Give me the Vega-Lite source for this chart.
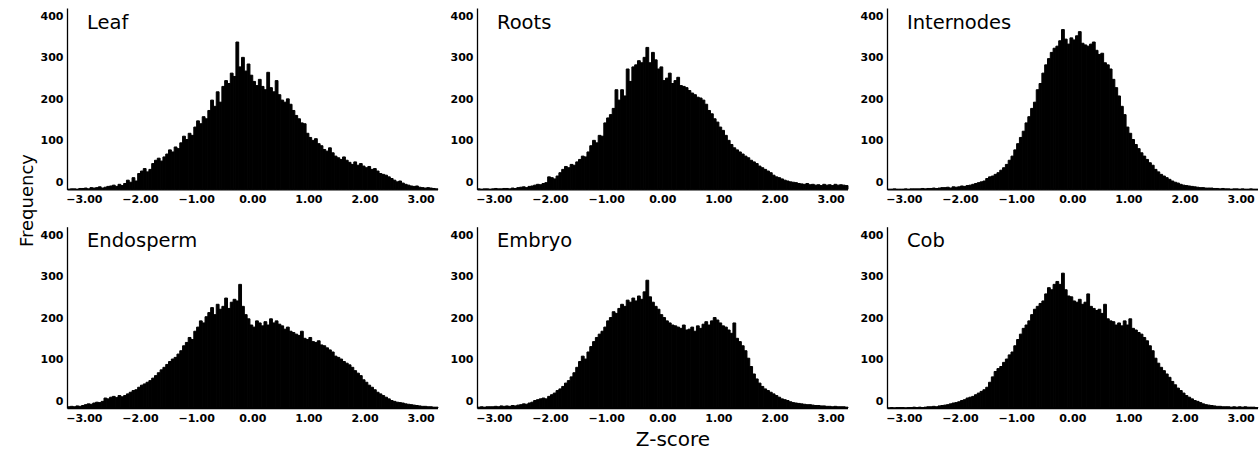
{
"$schema": "https://vega.github.io/schema/vega-lite/v6.json",
"background": "white",
"padding": {"left": 18, "top": 8, "right": 0, "bottom": 0},
"config": {
 "view": {"stroke": null},
 "bar": {"binSpacing": 0, "color": "black", "stroke": "black", "strokeWidth": 1},
 "axis": {"grid": false, "ticks": false, "tickSize": 0, "domainColor": "black", "domainWidth": 1.3, "labelFont": "DejaVu Sans", "labelFontWeight": "bold", "labelFontSize": 11, "labelColor": "black", "titleColor": "black", "titleFontWeight": "normal"},
 "axisY": {"labelOffset": -7, "labelPadding": 4},
 "axisX": {"labelPadding": 4, "labelFlush": false},
 "title": {"anchor": "start", "frame": "group", "orient": "top", "offset": -25, "dx": 20, "baseline": "alphabetic", "font": "DejaVu Sans", "fontSize": 19.5, "fontWeight": "normal", "color": "black"}
},
"datasets": {"h": [
{"t":"Leaf","x":-3.3,"n":0},{"t":"Leaf","x":-3.25,"n":1},{"t":"Leaf","x":-3.2,"n":1},{"t":"Leaf","x":-3.15,"n":0},{"t":"Leaf","x":-3.1,"n":2},
{"t":"Leaf","x":-3.05,"n":2},{"t":"Leaf","x":-3,"n":3},{"t":"Leaf","x":-2.95,"n":1},{"t":"Leaf","x":-2.9,"n":4},{"t":"Leaf","x":-2.85,"n":3},
{"t":"Leaf","x":-2.8,"n":4},{"t":"Leaf","x":-2.75,"n":6},{"t":"Leaf","x":-2.7,"n":3},{"t":"Leaf","x":-2.65,"n":5},{"t":"Leaf","x":-2.6,"n":7},
{"t":"Leaf","x":-2.55,"n":8},{"t":"Leaf","x":-2.5,"n":10},{"t":"Leaf","x":-2.45,"n":7},{"t":"Leaf","x":-2.4,"n":12},{"t":"Leaf","x":-2.35,"n":9},
{"t":"Leaf","x":-2.3,"n":14},{"t":"Leaf","x":-2.25,"n":22},{"t":"Leaf","x":-2.2,"n":17},{"t":"Leaf","x":-2.15,"n":28},{"t":"Leaf","x":-2.1,"n":20},
{"t":"Leaf","x":-2.05,"n":38},{"t":"Leaf","x":-2,"n":44},{"t":"Leaf","x":-1.95,"n":50},{"t":"Leaf","x":-1.9,"n":42},{"t":"Leaf","x":-1.85,"n":48},
{"t":"Leaf","x":-1.8,"n":62},{"t":"Leaf","x":-1.75,"n":70},{"t":"Leaf","x":-1.7,"n":75},{"t":"Leaf","x":-1.65,"n":68},{"t":"Leaf","x":-1.6,"n":78},
{"t":"Leaf","x":-1.55,"n":85},{"t":"Leaf","x":-1.5,"n":95},{"t":"Leaf","x":-1.45,"n":90},{"t":"Leaf","x":-1.4,"n":102},{"t":"Leaf","x":-1.35,"n":98},
{"t":"Leaf","x":-1.3,"n":112},{"t":"Leaf","x":-1.25,"n":128},{"t":"Leaf","x":-1.2,"n":120},{"t":"Leaf","x":-1.15,"n":135},{"t":"Leaf","x":-1.1,"n":130},
{"t":"Leaf","x":-1.05,"n":150},{"t":"Leaf","x":-1,"n":165},{"t":"Leaf","x":-0.95,"n":158},{"t":"Leaf","x":-0.9,"n":175},{"t":"Leaf","x":-0.85,"n":170},
{"t":"Leaf","x":-0.8,"n":190},{"t":"Leaf","x":-0.75,"n":215},{"t":"Leaf","x":-0.7,"n":200},{"t":"Leaf","x":-0.65,"n":235},{"t":"Leaf","x":-0.6,"n":210},
{"t":"Leaf","x":-0.55,"n":248},{"t":"Leaf","x":-0.5,"n":262},{"t":"Leaf","x":-0.45,"n":255},{"t":"Leaf","x":-0.4,"n":280},{"t":"Leaf","x":-0.35,"n":272},
{"t":"Leaf","x":-0.3,"n":355},{"t":"Leaf","x":-0.25,"n":295},{"t":"Leaf","x":-0.2,"n":318},{"t":"Leaf","x":-0.15,"n":285},{"t":"Leaf","x":-0.1,"n":302},
{"t":"Leaf","x":-0.05,"n":275},{"t":"Leaf","x":0,"n":260},{"t":"Leaf","x":0.05,"n":250},{"t":"Leaf","x":0.1,"n":265},{"t":"Leaf","x":0.15,"n":248},
{"t":"Leaf","x":0.2,"n":240},{"t":"Leaf","x":0.25,"n":282},{"t":"Leaf","x":0.3,"n":245},{"t":"Leaf","x":0.35,"n":235},{"t":"Leaf","x":0.4,"n":262},
{"t":"Leaf","x":0.45,"n":228},{"t":"Leaf","x":0.5,"n":215},{"t":"Leaf","x":0.55,"n":210},{"t":"Leaf","x":0.6,"n":218},{"t":"Leaf","x":0.65,"n":205},
{"t":"Leaf","x":0.7,"n":190},{"t":"Leaf","x":0.75,"n":178},{"t":"Leaf","x":0.8,"n":170},{"t":"Leaf","x":0.85,"n":160},{"t":"Leaf","x":0.9,"n":158},
{"t":"Leaf","x":0.95,"n":135},{"t":"Leaf","x":1,"n":125},{"t":"Leaf","x":1.05,"n":118},{"t":"Leaf","x":1.1,"n":122},{"t":"Leaf","x":1.15,"n":110},
{"t":"Leaf","x":1.2,"n":105},{"t":"Leaf","x":1.25,"n":96},{"t":"Leaf","x":1.3,"n":92},{"t":"Leaf","x":1.35,"n":100},{"t":"Leaf","x":1.4,"n":88},
{"t":"Leaf","x":1.45,"n":80},{"t":"Leaf","x":1.5,"n":76},{"t":"Leaf","x":1.55,"n":72},{"t":"Leaf","x":1.6,"n":78},{"t":"Leaf","x":1.65,"n":70},
{"t":"Leaf","x":1.7,"n":65},{"t":"Leaf","x":1.75,"n":60},{"t":"Leaf","x":1.8,"n":66},{"t":"Leaf","x":1.85,"n":58},{"t":"Leaf","x":1.9,"n":62},
{"t":"Leaf","x":1.95,"n":56},{"t":"Leaf","x":2,"n":52},{"t":"Leaf","x":2.05,"n":55},{"t":"Leaf","x":2.1,"n":48},{"t":"Leaf","x":2.15,"n":50},
{"t":"Leaf","x":2.2,"n":44},{"t":"Leaf","x":2.25,"n":38},{"t":"Leaf","x":2.3,"n":36},{"t":"Leaf","x":2.35,"n":34},{"t":"Leaf","x":2.4,"n":30},
{"t":"Leaf","x":2.45,"n":26},{"t":"Leaf","x":2.5,"n":22},{"t":"Leaf","x":2.55,"n":18},{"t":"Leaf","x":2.6,"n":20},{"t":"Leaf","x":2.65,"n":15},
{"t":"Leaf","x":2.7,"n":12},{"t":"Leaf","x":2.75,"n":10},{"t":"Leaf","x":2.8,"n":8},{"t":"Leaf","x":2.85,"n":7},{"t":"Leaf","x":2.9,"n":8},
{"t":"Leaf","x":2.95,"n":5},{"t":"Leaf","x":3,"n":4},{"t":"Leaf","x":3.05,"n":3},{"t":"Leaf","x":3.1,"n":4},{"t":"Leaf","x":3.15,"n":3},
{"t":"Leaf","x":3.2,"n":2},{"t":"Leaf","x":3.25,"n":1},
{"t":"Roots","x":-3.3,"n":1},{"t":"Roots","x":-3.25,"n":0},{"t":"Roots","x":-3.2,"n":1},{"t":"Roots","x":-3.15,"n":1},{"t":"Roots","x":-3.1,"n":0},
{"t":"Roots","x":-3.05,"n":1},{"t":"Roots","x":-3,"n":2},{"t":"Roots","x":-2.95,"n":1},{"t":"Roots","x":-2.9,"n":1},{"t":"Roots","x":-2.85,"n":2},
{"t":"Roots","x":-2.8,"n":2},{"t":"Roots","x":-2.75,"n":1},{"t":"Roots","x":-2.7,"n":3},{"t":"Roots","x":-2.65,"n":2},{"t":"Roots","x":-2.6,"n":4},
{"t":"Roots","x":-2.55,"n":5},{"t":"Roots","x":-2.5,"n":6},{"t":"Roots","x":-2.45,"n":4},{"t":"Roots","x":-2.4,"n":7},{"t":"Roots","x":-2.35,"n":8},
{"t":"Roots","x":-2.3,"n":10},{"t":"Roots","x":-2.25,"n":12},{"t":"Roots","x":-2.2,"n":11},{"t":"Roots","x":-2.15,"n":14},{"t":"Roots","x":-2.1,"n":16},
{"t":"Roots","x":-2.05,"n":30},{"t":"Roots","x":-2,"n":28},{"t":"Roots","x":-1.95,"n":25},{"t":"Roots","x":-1.9,"n":32},{"t":"Roots","x":-1.85,"n":40},
{"t":"Roots","x":-1.8,"n":48},{"t":"Roots","x":-1.75,"n":55},{"t":"Roots","x":-1.7,"n":52},{"t":"Roots","x":-1.65,"n":60},{"t":"Roots","x":-1.6,"n":58},
{"t":"Roots","x":-1.55,"n":66},{"t":"Roots","x":-1.5,"n":72},{"t":"Roots","x":-1.45,"n":80},{"t":"Roots","x":-1.4,"n":78},{"t":"Roots","x":-1.35,"n":90},
{"t":"Roots","x":-1.3,"n":105},{"t":"Roots","x":-1.25,"n":118},{"t":"Roots","x":-1.2,"n":112},{"t":"Roots","x":-1.15,"n":130},{"t":"Roots","x":-1.1,"n":128},
{"t":"Roots","x":-1.05,"n":160},{"t":"Roots","x":-1,"n":172},{"t":"Roots","x":-0.95,"n":180},{"t":"Roots","x":-0.9,"n":195},{"t":"Roots","x":-0.85,"n":240},
{"t":"Roots","x":-0.8,"n":215},{"t":"Roots","x":-0.75,"n":240},{"t":"Roots","x":-0.7,"n":225},{"t":"Roots","x":-0.65,"n":290},{"t":"Roots","x":-0.6,"n":260},
{"t":"Roots","x":-0.55,"n":295},{"t":"Roots","x":-0.5,"n":300},{"t":"Roots","x":-0.45,"n":310},{"t":"Roots","x":-0.4,"n":305},{"t":"Roots","x":-0.35,"n":318},
{"t":"Roots","x":-0.3,"n":342},{"t":"Roots","x":-0.25,"n":305},{"t":"Roots","x":-0.2,"n":330},{"t":"Roots","x":-0.15,"n":312},{"t":"Roots","x":-0.1,"n":290},
{"t":"Roots","x":-0.05,"n":295},{"t":"Roots","x":0,"n":262},{"t":"Roots","x":0.05,"n":268},{"t":"Roots","x":0.1,"n":280},{"t":"Roots","x":0.15,"n":255},
{"t":"Roots","x":0.2,"n":262},{"t":"Roots","x":0.25,"n":270},{"t":"Roots","x":0.3,"n":250},{"t":"Roots","x":0.35,"n":248},{"t":"Roots","x":0.4,"n":245},
{"t":"Roots","x":0.45,"n":238},{"t":"Roots","x":0.5,"n":232},{"t":"Roots","x":0.55,"n":228},{"t":"Roots","x":0.6,"n":222},{"t":"Roots","x":0.65,"n":220},
{"t":"Roots","x":0.7,"n":215},{"t":"Roots","x":0.75,"n":205},{"t":"Roots","x":0.8,"n":190},{"t":"Roots","x":0.85,"n":182},{"t":"Roots","x":0.9,"n":170},
{"t":"Roots","x":0.95,"n":162},{"t":"Roots","x":1,"n":150},{"t":"Roots","x":1.05,"n":142},{"t":"Roots","x":1.1,"n":130},{"t":"Roots","x":1.15,"n":118},
{"t":"Roots","x":1.2,"n":108},{"t":"Roots","x":1.25,"n":100},{"t":"Roots","x":1.3,"n":95},{"t":"Roots","x":1.35,"n":90},{"t":"Roots","x":1.4,"n":85},
{"t":"Roots","x":1.45,"n":80},{"t":"Roots","x":1.5,"n":76},{"t":"Roots","x":1.55,"n":70},{"t":"Roots","x":1.6,"n":66},{"t":"Roots","x":1.65,"n":62},
{"t":"Roots","x":1.7,"n":56},{"t":"Roots","x":1.75,"n":52},{"t":"Roots","x":1.8,"n":48},{"t":"Roots","x":1.85,"n":44},{"t":"Roots","x":1.9,"n":40},
{"t":"Roots","x":1.95,"n":34},{"t":"Roots","x":2,"n":30},{"t":"Roots","x":2.05,"n":28},{"t":"Roots","x":2.1,"n":25},{"t":"Roots","x":2.15,"n":22},
{"t":"Roots","x":2.2,"n":20},{"t":"Roots","x":2.25,"n":18},{"t":"Roots","x":2.3,"n":17},{"t":"Roots","x":2.35,"n":16},{"t":"Roots","x":2.4,"n":14},
{"t":"Roots","x":2.45,"n":13},{"t":"Roots","x":2.5,"n":12},{"t":"Roots","x":2.55,"n":14},{"t":"Roots","x":2.6,"n":11},{"t":"Roots","x":2.65,"n":12},
{"t":"Roots","x":2.7,"n":10},{"t":"Roots","x":2.75,"n":11},{"t":"Roots","x":2.8,"n":9},{"t":"Roots","x":2.85,"n":12},{"t":"Roots","x":2.9,"n":10},
{"t":"Roots","x":2.95,"n":11},{"t":"Roots","x":3,"n":9},{"t":"Roots","x":3.05,"n":12},{"t":"Roots","x":3.1,"n":10},{"t":"Roots","x":3.15,"n":11},
{"t":"Roots","x":3.2,"n":10},{"t":"Roots","x":3.25,"n":9},
{"t":"Internodes","x":-3.3,"n":0},{"t":"Internodes","x":-3.25,"n":0},{"t":"Internodes","x":-3.2,"n":1},{"t":"Internodes","x":-3.15,"n":0},{"t":"Internodes","x":-3.1,"n":0},
{"t":"Internodes","x":-3.05,"n":0},{"t":"Internodes","x":-3,"n":1},{"t":"Internodes","x":-2.95,"n":0},{"t":"Internodes","x":-2.9,"n":1},{"t":"Internodes","x":-2.85,"n":1},
{"t":"Internodes","x":-2.8,"n":1},{"t":"Internodes","x":-2.75,"n":1},{"t":"Internodes","x":-2.7,"n":2},{"t":"Internodes","x":-2.65,"n":1},{"t":"Internodes","x":-2.6,"n":2},
{"t":"Internodes","x":-2.55,"n":2},{"t":"Internodes","x":-2.5,"n":3},{"t":"Internodes","x":-2.45,"n":2},{"t":"Internodes","x":-2.4,"n":3},{"t":"Internodes","x":-2.35,"n":4},
{"t":"Internodes","x":-2.3,"n":4},{"t":"Internodes","x":-2.25,"n":5},{"t":"Internodes","x":-2.2,"n":3},{"t":"Internodes","x":-2.15,"n":6},{"t":"Internodes","x":-2.1,"n":5},
{"t":"Internodes","x":-2.05,"n":6},{"t":"Internodes","x":-2,"n":8},{"t":"Internodes","x":-1.95,"n":7},{"t":"Internodes","x":-1.9,"n":9},{"t":"Internodes","x":-1.85,"n":10},
{"t":"Internodes","x":-1.8,"n":12},{"t":"Internodes","x":-1.75,"n":14},{"t":"Internodes","x":-1.7,"n":16},{"t":"Internodes","x":-1.65,"n":18},{"t":"Internodes","x":-1.6,"n":20},
{"t":"Internodes","x":-1.55,"n":26},{"t":"Internodes","x":-1.5,"n":30},{"t":"Internodes","x":-1.45,"n":32},{"t":"Internodes","x":-1.4,"n":36},{"t":"Internodes","x":-1.35,"n":40},
{"t":"Internodes","x":-1.3,"n":46},{"t":"Internodes","x":-1.25,"n":52},{"t":"Internodes","x":-1.2,"n":60},{"t":"Internodes","x":-1.15,"n":70},{"t":"Internodes","x":-1.1,"n":80},
{"t":"Internodes","x":-1.05,"n":95},{"t":"Internodes","x":-1,"n":110},{"t":"Internodes","x":-0.95,"n":125},{"t":"Internodes","x":-0.9,"n":140},{"t":"Internodes","x":-0.85,"n":160},
{"t":"Internodes","x":-0.8,"n":175},{"t":"Internodes","x":-0.75,"n":195},{"t":"Internodes","x":-0.7,"n":210},{"t":"Internodes","x":-0.65,"n":240},{"t":"Internodes","x":-0.6,"n":255},
{"t":"Internodes","x":-0.55,"n":280},{"t":"Internodes","x":-0.5,"n":300},{"t":"Internodes","x":-0.45,"n":315},{"t":"Internodes","x":-0.4,"n":330},{"t":"Internodes","x":-0.35,"n":340},
{"t":"Internodes","x":-0.3,"n":345},{"t":"Internodes","x":-0.25,"n":358},{"t":"Internodes","x":-0.2,"n":385},{"t":"Internodes","x":-0.15,"n":362},{"t":"Internodes","x":-0.1,"n":350},
{"t":"Internodes","x":-0.05,"n":365},{"t":"Internodes","x":0,"n":360},{"t":"Internodes","x":0.05,"n":370},{"t":"Internodes","x":0.1,"n":380},{"t":"Internodes","x":0.15,"n":352},
{"t":"Internodes","x":0.2,"n":348},{"t":"Internodes","x":0.25,"n":345},{"t":"Internodes","x":0.3,"n":350},{"t":"Internodes","x":0.35,"n":355},{"t":"Internodes","x":0.4,"n":335},
{"t":"Internodes","x":0.45,"n":325},{"t":"Internodes","x":0.5,"n":328},{"t":"Internodes","x":0.55,"n":305},{"t":"Internodes","x":0.6,"n":300},{"t":"Internodes","x":0.65,"n":290},
{"t":"Internodes","x":0.7,"n":265},{"t":"Internodes","x":0.75,"n":245},{"t":"Internodes","x":0.8,"n":225},{"t":"Internodes","x":0.85,"n":200},{"t":"Internodes","x":0.9,"n":180},
{"t":"Internodes","x":0.95,"n":150},{"t":"Internodes","x":1,"n":135},{"t":"Internodes","x":1.05,"n":120},{"t":"Internodes","x":1.1,"n":108},{"t":"Internodes","x":1.15,"n":98},
{"t":"Internodes","x":1.2,"n":88},{"t":"Internodes","x":1.25,"n":80},{"t":"Internodes","x":1.3,"n":72},{"t":"Internodes","x":1.35,"n":64},{"t":"Internodes","x":1.4,"n":58},
{"t":"Internodes","x":1.45,"n":48},{"t":"Internodes","x":1.5,"n":42},{"t":"Internodes","x":1.55,"n":36},{"t":"Internodes","x":1.6,"n":32},{"t":"Internodes","x":1.65,"n":28},
{"t":"Internodes","x":1.7,"n":24},{"t":"Internodes","x":1.75,"n":20},{"t":"Internodes","x":1.8,"n":17},{"t":"Internodes","x":1.85,"n":15},{"t":"Internodes","x":1.9,"n":12},
{"t":"Internodes","x":1.95,"n":10},{"t":"Internodes","x":2,"n":9},{"t":"Internodes","x":2.05,"n":8},{"t":"Internodes","x":2.1,"n":7},{"t":"Internodes","x":2.15,"n":6},
{"t":"Internodes","x":2.2,"n":5},{"t":"Internodes","x":2.25,"n":4},{"t":"Internodes","x":2.3,"n":4},{"t":"Internodes","x":2.35,"n":3},{"t":"Internodes","x":2.4,"n":3},
{"t":"Internodes","x":2.45,"n":3},{"t":"Internodes","x":2.5,"n":2},{"t":"Internodes","x":2.55,"n":2},{"t":"Internodes","x":2.6,"n":1},{"t":"Internodes","x":2.65,"n":2},
{"t":"Internodes","x":2.7,"n":1},{"t":"Internodes","x":2.75,"n":1},{"t":"Internodes","x":2.8,"n":0},{"t":"Internodes","x":2.85,"n":1},{"t":"Internodes","x":2.9,"n":1},
{"t":"Internodes","x":2.95,"n":0},{"t":"Internodes","x":3,"n":1},{"t":"Internodes","x":3.05,"n":0},{"t":"Internodes","x":3.1,"n":0},{"t":"Internodes","x":3.15,"n":1},
{"t":"Internodes","x":3.2,"n":0},{"t":"Internodes","x":3.25,"n":0},
{"t":"Endosperm","x":-3.3,"n":3},{"t":"Endosperm","x":-3.25,"n":4},{"t":"Endosperm","x":-3.2,"n":3},{"t":"Endosperm","x":-3.15,"n":5},{"t":"Endosperm","x":-3.1,"n":4},
{"t":"Endosperm","x":-3.05,"n":6},{"t":"Endosperm","x":-3,"n":8},{"t":"Endosperm","x":-2.95,"n":10},{"t":"Endosperm","x":-2.9,"n":9},{"t":"Endosperm","x":-2.85,"n":12},
{"t":"Endosperm","x":-2.8,"n":14},{"t":"Endosperm","x":-2.75,"n":13},{"t":"Endosperm","x":-2.7,"n":16},{"t":"Endosperm","x":-2.65,"n":24},{"t":"Endosperm","x":-2.6,"n":22},
{"t":"Endosperm","x":-2.55,"n":26},{"t":"Endosperm","x":-2.5,"n":28},{"t":"Endosperm","x":-2.45,"n":25},{"t":"Endosperm","x":-2.4,"n":30},{"t":"Endosperm","x":-2.35,"n":27},
{"t":"Endosperm","x":-2.3,"n":30},{"t":"Endosperm","x":-2.25,"n":34},{"t":"Endosperm","x":-2.2,"n":38},{"t":"Endosperm","x":-2.15,"n":42},{"t":"Endosperm","x":-2.1,"n":44},
{"t":"Endosperm","x":-2.05,"n":50},{"t":"Endosperm","x":-2,"n":55},{"t":"Endosperm","x":-1.95,"n":58},{"t":"Endosperm","x":-1.9,"n":62},{"t":"Endosperm","x":-1.85,"n":66},
{"t":"Endosperm","x":-1.8,"n":72},{"t":"Endosperm","x":-1.75,"n":78},{"t":"Endosperm","x":-1.7,"n":85},{"t":"Endosperm","x":-1.65,"n":92},{"t":"Endosperm","x":-1.6,"n":98},
{"t":"Endosperm","x":-1.55,"n":105},{"t":"Endosperm","x":-1.5,"n":112},{"t":"Endosperm","x":-1.45,"n":118},{"t":"Endosperm","x":-1.4,"n":122},{"t":"Endosperm","x":-1.35,"n":130},
{"t":"Endosperm","x":-1.3,"n":138},{"t":"Endosperm","x":-1.25,"n":150},{"t":"Endosperm","x":-1.2,"n":158},{"t":"Endosperm","x":-1.15,"n":170},{"t":"Endosperm","x":-1.1,"n":165},
{"t":"Endosperm","x":-1.05,"n":185},{"t":"Endosperm","x":-1,"n":195},{"t":"Endosperm","x":-0.95,"n":210},{"t":"Endosperm","x":-0.9,"n":205},{"t":"Endosperm","x":-0.85,"n":220},
{"t":"Endosperm","x":-0.8,"n":230},{"t":"Endosperm","x":-0.75,"n":242},{"t":"Endosperm","x":-0.7,"n":225},{"t":"Endosperm","x":-0.65,"n":250},{"t":"Endosperm","x":-0.6,"n":238},
{"t":"Endosperm","x":-0.55,"n":245},{"t":"Endosperm","x":-0.5,"n":265},{"t":"Endosperm","x":-0.45,"n":240},{"t":"Endosperm","x":-0.4,"n":255},{"t":"Endosperm","x":-0.35,"n":262},
{"t":"Endosperm","x":-0.3,"n":258},{"t":"Endosperm","x":-0.25,"n":298},{"t":"Endosperm","x":-0.2,"n":245},{"t":"Endosperm","x":-0.15,"n":225},{"t":"Endosperm","x":-0.1,"n":215},
{"t":"Endosperm","x":-0.05,"n":200},{"t":"Endosperm","x":0,"n":195},{"t":"Endosperm","x":0.05,"n":210},{"t":"Endosperm","x":0.1,"n":205},{"t":"Endosperm","x":0.15,"n":198},
{"t":"Endosperm","x":0.2,"n":208},{"t":"Endosperm","x":0.25,"n":200},{"t":"Endosperm","x":0.3,"n":215},{"t":"Endosperm","x":0.35,"n":205},{"t":"Endosperm","x":0.4,"n":210},
{"t":"Endosperm","x":0.45,"n":202},{"t":"Endosperm","x":0.5,"n":198},{"t":"Endosperm","x":0.55,"n":190},{"t":"Endosperm","x":0.6,"n":195},{"t":"Endosperm","x":0.65,"n":185},
{"t":"Endosperm","x":0.7,"n":182},{"t":"Endosperm","x":0.75,"n":178},{"t":"Endosperm","x":0.8,"n":175},{"t":"Endosperm","x":0.85,"n":185},{"t":"Endosperm","x":0.9,"n":168},
{"t":"Endosperm","x":0.95,"n":165},{"t":"Endosperm","x":1,"n":170},{"t":"Endosperm","x":1.05,"n":160},{"t":"Endosperm","x":1.1,"n":158},{"t":"Endosperm","x":1.15,"n":162},
{"t":"Endosperm","x":1.2,"n":152},{"t":"Endosperm","x":1.25,"n":150},{"t":"Endosperm","x":1.3,"n":145},{"t":"Endosperm","x":1.35,"n":140},{"t":"Endosperm","x":1.4,"n":135},
{"t":"Endosperm","x":1.45,"n":125},{"t":"Endosperm","x":1.5,"n":122},{"t":"Endosperm","x":1.55,"n":118},{"t":"Endosperm","x":1.6,"n":112},{"t":"Endosperm","x":1.65,"n":108},
{"t":"Endosperm","x":1.7,"n":104},{"t":"Endosperm","x":1.75,"n":98},{"t":"Endosperm","x":1.8,"n":90},{"t":"Endosperm","x":1.85,"n":84},{"t":"Endosperm","x":1.9,"n":78},
{"t":"Endosperm","x":1.95,"n":68},{"t":"Endosperm","x":2,"n":62},{"t":"Endosperm","x":2.05,"n":55},{"t":"Endosperm","x":2.1,"n":50},{"t":"Endosperm","x":2.15,"n":44},
{"t":"Endosperm","x":2.2,"n":38},{"t":"Endosperm","x":2.25,"n":34},{"t":"Endosperm","x":2.3,"n":30},{"t":"Endosperm","x":2.35,"n":26},{"t":"Endosperm","x":2.4,"n":22},
{"t":"Endosperm","x":2.45,"n":18},{"t":"Endosperm","x":2.5,"n":16},{"t":"Endosperm","x":2.55,"n":14},{"t":"Endosperm","x":2.6,"n":13},{"t":"Endosperm","x":2.65,"n":12},
{"t":"Endosperm","x":2.7,"n":10},{"t":"Endosperm","x":2.75,"n":9},{"t":"Endosperm","x":2.8,"n":8},{"t":"Endosperm","x":2.85,"n":7},{"t":"Endosperm","x":2.9,"n":6},
{"t":"Endosperm","x":2.95,"n":5},{"t":"Endosperm","x":3,"n":4},{"t":"Endosperm","x":3.05,"n":4},{"t":"Endosperm","x":3.1,"n":3},{"t":"Endosperm","x":3.15,"n":3},
{"t":"Endosperm","x":3.2,"n":2},{"t":"Endosperm","x":3.25,"n":2},
{"t":"Embryo","x":-3.3,"n":2},{"t":"Embryo","x":-3.25,"n":3},{"t":"Embryo","x":-3.2,"n":2},{"t":"Embryo","x":-3.15,"n":3},{"t":"Embryo","x":-3.1,"n":3},
{"t":"Embryo","x":-3.05,"n":3},{"t":"Embryo","x":-3,"n":4},{"t":"Embryo","x":-2.95,"n":3},{"t":"Embryo","x":-2.9,"n":5},{"t":"Embryo","x":-2.85,"n":4},
{"t":"Embryo","x":-2.8,"n":5},{"t":"Embryo","x":-2.75,"n":4},{"t":"Embryo","x":-2.7,"n":6},{"t":"Embryo","x":-2.65,"n":5},{"t":"Embryo","x":-2.6,"n":7},
{"t":"Embryo","x":-2.55,"n":8},{"t":"Embryo","x":-2.5,"n":10},{"t":"Embryo","x":-2.45,"n":9},{"t":"Embryo","x":-2.4,"n":12},{"t":"Embryo","x":-2.35,"n":14},
{"t":"Embryo","x":-2.3,"n":18},{"t":"Embryo","x":-2.25,"n":20},{"t":"Embryo","x":-2.2,"n":22},{"t":"Embryo","x":-2.15,"n":24},{"t":"Embryo","x":-2.1,"n":22},
{"t":"Embryo","x":-2.05,"n":28},{"t":"Embryo","x":-2,"n":32},{"t":"Embryo","x":-1.95,"n":36},{"t":"Embryo","x":-1.9,"n":42},{"t":"Embryo","x":-1.85,"n":46},
{"t":"Embryo","x":-1.8,"n":52},{"t":"Embryo","x":-1.75,"n":60},{"t":"Embryo","x":-1.7,"n":66},{"t":"Embryo","x":-1.65,"n":75},{"t":"Embryo","x":-1.6,"n":85},
{"t":"Embryo","x":-1.55,"n":98},{"t":"Embryo","x":-1.5,"n":112},{"t":"Embryo","x":-1.45,"n":125},{"t":"Embryo","x":-1.4,"n":118},{"t":"Embryo","x":-1.35,"n":135},
{"t":"Embryo","x":-1.3,"n":148},{"t":"Embryo","x":-1.25,"n":160},{"t":"Embryo","x":-1.2,"n":170},{"t":"Embryo","x":-1.15,"n":178},{"t":"Embryo","x":-1.1,"n":185},
{"t":"Embryo","x":-1.05,"n":195},{"t":"Embryo","x":-1,"n":210},{"t":"Embryo","x":-0.95,"n":218},{"t":"Embryo","x":-0.9,"n":232},{"t":"Embryo","x":-0.85,"n":228},
{"t":"Embryo","x":-0.8,"n":240},{"t":"Embryo","x":-0.75,"n":250},{"t":"Embryo","x":-0.7,"n":245},{"t":"Embryo","x":-0.65,"n":260},{"t":"Embryo","x":-0.6,"n":255},
{"t":"Embryo","x":-0.55,"n":265},{"t":"Embryo","x":-0.5,"n":258},{"t":"Embryo","x":-0.45,"n":270},{"t":"Embryo","x":-0.4,"n":262},{"t":"Embryo","x":-0.35,"n":280},
{"t":"Embryo","x":-0.3,"n":308},{"t":"Embryo","x":-0.25,"n":268},{"t":"Embryo","x":-0.2,"n":255},{"t":"Embryo","x":-0.15,"n":245},{"t":"Embryo","x":-0.1,"n":238},
{"t":"Embryo","x":-0.05,"n":225},{"t":"Embryo","x":0,"n":218},{"t":"Embryo","x":0.05,"n":210},{"t":"Embryo","x":0.1,"n":205},{"t":"Embryo","x":0.15,"n":200},
{"t":"Embryo","x":0.2,"n":198},{"t":"Embryo","x":0.25,"n":195},{"t":"Embryo","x":0.3,"n":192},{"t":"Embryo","x":0.35,"n":200},{"t":"Embryo","x":0.4,"n":188},
{"t":"Embryo","x":0.45,"n":190},{"t":"Embryo","x":0.5,"n":195},{"t":"Embryo","x":0.55,"n":185},{"t":"Embryo","x":0.6,"n":198},{"t":"Embryo","x":0.65,"n":192},
{"t":"Embryo","x":0.7,"n":202},{"t":"Embryo","x":0.75,"n":208},{"t":"Embryo","x":0.8,"n":200},{"t":"Embryo","x":0.85,"n":210},{"t":"Embryo","x":0.9,"n":218},
{"t":"Embryo","x":0.95,"n":212},{"t":"Embryo","x":1,"n":205},{"t":"Embryo","x":1.05,"n":198},{"t":"Embryo","x":1.1,"n":195},{"t":"Embryo","x":1.15,"n":188},
{"t":"Embryo","x":1.2,"n":180},{"t":"Embryo","x":1.25,"n":205},{"t":"Embryo","x":1.3,"n":168},{"t":"Embryo","x":1.35,"n":160},{"t":"Embryo","x":1.4,"n":150},
{"t":"Embryo","x":1.45,"n":138},{"t":"Embryo","x":1.5,"n":120},{"t":"Embryo","x":1.55,"n":100},{"t":"Embryo","x":1.6,"n":82},{"t":"Embryo","x":1.65,"n":70},
{"t":"Embryo","x":1.7,"n":60},{"t":"Embryo","x":1.75,"n":52},{"t":"Embryo","x":1.8,"n":46},{"t":"Embryo","x":1.85,"n":42},{"t":"Embryo","x":1.9,"n":38},
{"t":"Embryo","x":1.95,"n":34},{"t":"Embryo","x":2,"n":30},{"t":"Embryo","x":2.05,"n":26},{"t":"Embryo","x":2.1,"n":22},{"t":"Embryo","x":2.15,"n":20},
{"t":"Embryo","x":2.2,"n":18},{"t":"Embryo","x":2.25,"n":15},{"t":"Embryo","x":2.3,"n":13},{"t":"Embryo","x":2.35,"n":12},{"t":"Embryo","x":2.4,"n":11},
{"t":"Embryo","x":2.45,"n":10},{"t":"Embryo","x":2.5,"n":9},{"t":"Embryo","x":2.55,"n":8},{"t":"Embryo","x":2.6,"n":8},{"t":"Embryo","x":2.65,"n":7},
{"t":"Embryo","x":2.7,"n":6},{"t":"Embryo","x":2.75,"n":6},{"t":"Embryo","x":2.8,"n":5},{"t":"Embryo","x":2.85,"n":5},{"t":"Embryo","x":2.9,"n":4},
{"t":"Embryo","x":2.95,"n":4},{"t":"Embryo","x":3,"n":3},{"t":"Embryo","x":3.05,"n":4},{"t":"Embryo","x":3.1,"n":3},{"t":"Embryo","x":3.15,"n":3},
{"t":"Embryo","x":3.2,"n":3},{"t":"Embryo","x":3.25,"n":2},
{"t":"Cob","x":-3.3,"n":0},{"t":"Cob","x":-3.25,"n":1},{"t":"Cob","x":-3.2,"n":0},{"t":"Cob","x":-3.15,"n":1},{"t":"Cob","x":-3.1,"n":1},
{"t":"Cob","x":-3.05,"n":1},{"t":"Cob","x":-3,"n":0},{"t":"Cob","x":-2.95,"n":1},{"t":"Cob","x":-2.9,"n":1},{"t":"Cob","x":-2.85,"n":2},
{"t":"Cob","x":-2.8,"n":1},{"t":"Cob","x":-2.75,"n":2},{"t":"Cob","x":-2.7,"n":1},{"t":"Cob","x":-2.65,"n":2},{"t":"Cob","x":-2.6,"n":3},
{"t":"Cob","x":-2.55,"n":3},{"t":"Cob","x":-2.5,"n":4},{"t":"Cob","x":-2.45,"n":3},{"t":"Cob","x":-2.4,"n":5},{"t":"Cob","x":-2.35,"n":6},
{"t":"Cob","x":-2.3,"n":7},{"t":"Cob","x":-2.25,"n":8},{"t":"Cob","x":-2.2,"n":10},{"t":"Cob","x":-2.15,"n":12},{"t":"Cob","x":-2.1,"n":13},
{"t":"Cob","x":-2.05,"n":15},{"t":"Cob","x":-2,"n":18},{"t":"Cob","x":-1.95,"n":20},{"t":"Cob","x":-1.9,"n":24},{"t":"Cob","x":-1.85,"n":26},
{"t":"Cob","x":-1.8,"n":28},{"t":"Cob","x":-1.75,"n":32},{"t":"Cob","x":-1.7,"n":36},{"t":"Cob","x":-1.65,"n":40},{"t":"Cob","x":-1.6,"n":44},
{"t":"Cob","x":-1.55,"n":50},{"t":"Cob","x":-1.5,"n":62},{"t":"Cob","x":-1.45,"n":75},{"t":"Cob","x":-1.4,"n":88},{"t":"Cob","x":-1.35,"n":95},
{"t":"Cob","x":-1.3,"n":100},{"t":"Cob","x":-1.25,"n":110},{"t":"Cob","x":-1.2,"n":118},{"t":"Cob","x":-1.15,"n":128},{"t":"Cob","x":-1.1,"n":135},
{"t":"Cob","x":-1.05,"n":150},{"t":"Cob","x":-1,"n":165},{"t":"Cob","x":-0.95,"n":178},{"t":"Cob","x":-0.9,"n":192},{"t":"Cob","x":-0.85,"n":200},
{"t":"Cob","x":-0.8,"n":210},{"t":"Cob","x":-0.75,"n":225},{"t":"Cob","x":-0.7,"n":238},{"t":"Cob","x":-0.65,"n":245},{"t":"Cob","x":-0.6,"n":252},
{"t":"Cob","x":-0.55,"n":258},{"t":"Cob","x":-0.5,"n":275},{"t":"Cob","x":-0.45,"n":290},{"t":"Cob","x":-0.4,"n":285},{"t":"Cob","x":-0.35,"n":298},
{"t":"Cob","x":-0.3,"n":305},{"t":"Cob","x":-0.25,"n":298},{"t":"Cob","x":-0.2,"n":325},{"t":"Cob","x":-0.15,"n":285},{"t":"Cob","x":-0.1,"n":270},
{"t":"Cob","x":-0.05,"n":268},{"t":"Cob","x":0,"n":258},{"t":"Cob","x":0.05,"n":255},{"t":"Cob","x":0.1,"n":262},{"t":"Cob","x":0.15,"n":250},
{"t":"Cob","x":0.2,"n":255},{"t":"Cob","x":0.25,"n":275},{"t":"Cob","x":0.3,"n":245},{"t":"Cob","x":0.35,"n":240},{"t":"Cob","x":0.4,"n":235},
{"t":"Cob","x":0.45,"n":238},{"t":"Cob","x":0.5,"n":228},{"t":"Cob","x":0.55,"n":250},{"t":"Cob","x":0.6,"n":215},{"t":"Cob","x":0.65,"n":210},
{"t":"Cob","x":0.7,"n":208},{"t":"Cob","x":0.75,"n":200},{"t":"Cob","x":0.8,"n":205},{"t":"Cob","x":0.85,"n":198},{"t":"Cob","x":0.9,"n":210},
{"t":"Cob","x":0.95,"n":200},{"t":"Cob","x":1,"n":215},{"t":"Cob","x":1.05,"n":192},{"t":"Cob","x":1.1,"n":188},{"t":"Cob","x":1.15,"n":182},
{"t":"Cob","x":1.2,"n":178},{"t":"Cob","x":1.25,"n":170},{"t":"Cob","x":1.3,"n":162},{"t":"Cob","x":1.35,"n":150},{"t":"Cob","x":1.4,"n":138},
{"t":"Cob","x":1.45,"n":120},{"t":"Cob","x":1.5,"n":108},{"t":"Cob","x":1.55,"n":98},{"t":"Cob","x":1.6,"n":90},{"t":"Cob","x":1.65,"n":82},
{"t":"Cob","x":1.7,"n":74},{"t":"Cob","x":1.75,"n":64},{"t":"Cob","x":1.8,"n":56},{"t":"Cob","x":1.85,"n":48},{"t":"Cob","x":1.9,"n":42},
{"t":"Cob","x":1.95,"n":36},{"t":"Cob","x":2,"n":30},{"t":"Cob","x":2.05,"n":26},{"t":"Cob","x":2.1,"n":22},{"t":"Cob","x":2.15,"n":18},
{"t":"Cob","x":2.2,"n":16},{"t":"Cob","x":2.25,"n":13},{"t":"Cob","x":2.3,"n":10},{"t":"Cob","x":2.35,"n":8},{"t":"Cob","x":2.4,"n":7},
{"t":"Cob","x":2.45,"n":6},{"t":"Cob","x":2.5,"n":5},{"t":"Cob","x":2.55,"n":4},{"t":"Cob","x":2.6,"n":4},{"t":"Cob","x":2.65,"n":3},
{"t":"Cob","x":2.7,"n":3},{"t":"Cob","x":2.75,"n":3},{"t":"Cob","x":2.8,"n":2},{"t":"Cob","x":2.85,"n":3},{"t":"Cob","x":2.9,"n":2},
{"t":"Cob","x":2.95,"n":3},{"t":"Cob","x":3,"n":2},{"t":"Cob","x":3.05,"n":3},{"t":"Cob","x":3.1,"n":2},{"t":"Cob","x":3.15,"n":2},
{"t":"Cob","x":3.2,"n":2},{"t":"Cob","x":3.25,"n":1}
]},
"columns": 3,
"spacing": {"row": 36.7, "column": 39},
"bounds": "flush",
"concat": [
 {"width": 370.5, "height": 181.3, "data": {"name": "h"}, "transform": [{"filter": "datum.t === 'Leaf'"}], "title": "Leaf", "mark": "bar",
  "encoding": {
   "x": {"field": "x", "type": "quantitative", "bin": {"binned": true, "step": 0.05}, "scale": {"domain": [-3.3, 3.3], "nice": false, "zero": false}, "axis": {"values": [-3,-2,-1,0,1,2,3], "format": ".2f", "title": null}},
   "y": {"field": "n", "type": "quantitative", "scale": {"domain": [0, 437], "nice": false}, "axis": {"values": [0,100,200,300,400], "title": "Frequency", "titleFont": "DejaVu Sans", "titleFontSize": 18, "titleAngle": -90, "titleBaseline": "alphabetic", "titleAlign": "center", "titleX": -35, "titleY": 192}}
  }},
 {"width": 370.5, "height": 181.3, "data": {"name": "h"}, "transform": [{"filter": "datum.t === 'Roots'"}], "title": "Roots", "mark": "bar",
  "encoding": {
   "x": {"field": "x", "type": "quantitative", "bin": {"binned": true, "step": 0.05}, "scale": {"domain": [-3.3, 3.3], "nice": false, "zero": false}, "axis": {"values": [-3,-2,-1,0,1,2,3], "format": ".2f", "title": null}},
   "y": {"field": "n", "type": "quantitative", "scale": {"domain": [0, 437], "nice": false}, "axis": {"values": [0,100,200,300,400], "title": null}}
  }},
 {"width": 370.5, "height": 181.3, "data": {"name": "h"}, "transform": [{"filter": "datum.t === 'Internodes'"}], "title": "Internodes", "mark": "bar",
  "encoding": {
   "x": {"field": "x", "type": "quantitative", "bin": {"binned": true, "step": 0.05}, "scale": {"domain": [-3.3, 3.3], "nice": false, "zero": false}, "axis": {"values": [-3,-2,-1,0,1,2,3], "format": ".2f", "title": null}},
   "y": {"field": "n", "type": "quantitative", "scale": {"domain": [0, 437], "nice": false}, "axis": {"values": [0,100,200,300,400], "title": null}}
  }},
 {"width": 370.5, "height": 181.3, "data": {"name": "h"}, "transform": [{"filter": "datum.t === 'Endosperm'"}], "title": "Endosperm", "mark": "bar",
  "encoding": {
   "x": {"field": "x", "type": "quantitative", "bin": {"binned": true, "step": 0.05}, "scale": {"domain": [-3.3, 3.3], "nice": false, "zero": false}, "axis": {"values": [-3,-2,-1,0,1,2,3], "format": ".2f", "title": null}},
   "y": {"field": "n", "type": "quantitative", "scale": {"domain": [0, 437], "nice": false}, "axis": {"values": [0,100,200,300,400], "title": null}}
  }},
 {"width": 370.5, "height": 181.3, "data": {"name": "h"}, "transform": [{"filter": "datum.t === 'Embryo'"}], "title": "Embryo", "mark": "bar",
  "encoding": {
   "x": {"field": "x", "type": "quantitative", "bin": {"binned": true, "step": 0.05}, "scale": {"domain": [-3.3, 3.3], "nice": false, "zero": false}, "axis": {"values": [-3,-2,-1,0,1,2,3], "format": ".2f", "title": "Z-score", "titleFont": "DejaVu Sans", "titleFontSize": 20, "titleBaseline": "alphabetic", "titleAlign": "center", "titleX": 195.5, "titleY": 37.7}},
   "y": {"field": "n", "type": "quantitative", "scale": {"domain": [0, 437], "nice": false}, "axis": {"values": [0,100,200,300,400], "title": null}}
  }},
 {"width": 370.5, "height": 181.3, "data": {"name": "h"}, "transform": [{"filter": "datum.t === 'Cob'"}], "title": "Cob", "mark": "bar",
  "encoding": {
   "x": {"field": "x", "type": "quantitative", "bin": {"binned": true, "step": 0.05}, "scale": {"domain": [-3.3, 3.3], "nice": false, "zero": false}, "axis": {"values": [-3,-2,-1,0,1,2,3], "format": ".2f", "title": null}},
   "y": {"field": "n", "type": "quantitative", "scale": {"domain": [0, 437], "nice": false}, "axis": {"values": [0,100,200,300,400], "title": null}}
  }}
]
}
